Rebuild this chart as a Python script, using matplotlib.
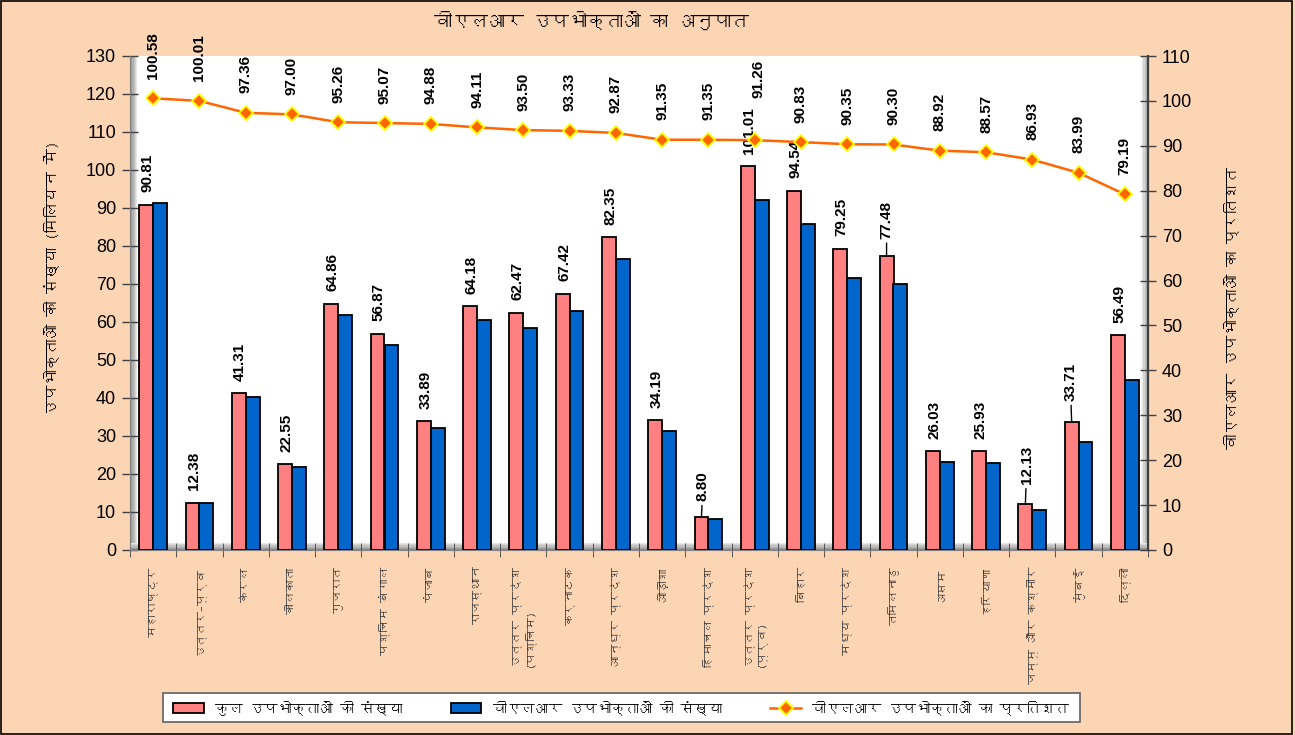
import matplotlib
matplotlib.use("Agg")
import matplotlib.pyplot as plt
import numpy as np
from matplotlib import font_manager as fm
from matplotlib.ft2font import FT2Font
from matplotlib.patches import Patch, Rectangle
from matplotlib.lines import Line2D

# ---------------- data ----------------
categories = ["महाराष्ट्र", "उत्तर–पूर्व", "केरल", "कोलकाता", "गुजरात", "पश्चिम बंगाल",
              "पंजाब", "राजस्थान", "उत्तर प्रदेश (पश्चिम)", "कर्नाटक", "आन्ध्र प्रदेश",
              "ओड़ीशा", "हिमाचल प्रदेश", "उत्तर प्रदेश (पूर्व)", "बिहार", "मध्य प्रदेश",
              "तमिलनाडु", "असम", "हरियाणा", "जम्मू और कश्मीर", "मुंबई", "दिल्ली"]
total_subs = [90.81, 12.38, 41.31, 22.55, 64.86, 56.87, 33.89, 64.18, 62.47, 67.42, 82.35,
              34.19, 8.80, 101.01, 94.54, 79.25, 77.48, 26.03, 25.93, 12.13, 33.71, 56.49]
vlr_subs = [91.34, 12.38, 40.22, 21.87, 61.79, 54.07, 32.16, 60.40, 58.41, 62.92, 76.48,
            31.23, 8.04, 92.18, 85.87, 71.60, 69.96, 23.15, 22.97, 10.54, 28.31, 44.73]
vlr_pct = [100.58, 100.01, 97.36, 97.00, 95.26, 95.07, 94.88, 94.11, 93.50, 93.33, 92.87,
           91.35, 91.35, 91.26, 90.83, 90.35, 90.30, 88.92, 88.57, 86.93, 83.99, 79.19]
left_ticks = list(range(0, 131, 10))
right_ticks = list(range(0, 111, 10))

title = "वीएलआर उपभोक्ताओं का अनुपात"
ylabel_left = "उपभोक्ताओं की संख्या (मिलियन में)"
ylabel_right = "वीएलआर उपभोक्ताओं का प्रतिशत"
legend_labels = ["कुल उपभोक्ताओं की संख्या", "वीएलआर उपभोक्ताओं की संख्या",
                 "वीएलआर उपभोक्ताओं का प्रतिशत"]

# ---------------- fonts ----------------
deva = None
for f in fm.fontManager.ttflist:
    try:
        cmap = FT2Font(f.fname).get_charmap()
    except Exception:
        continue
    if 0x0915 in cmap and 0x093F in cmap and f.style == "normal":
        deva = f.name
        break
fams = ([deva] if deva else []) + ["Liberation Sans", "DejaVu Sans"]
num_fams = ["Liberation Sans", "DejaVu Sans"]
plt.rcParams["font.family"] = fams

# ---------------- styles ----------------
BG = "#FCD5B4"
PINK = "#FF8080"
BLUE = "#0066CC"
ORANGE = "#FF6600"

fig = plt.figure(figsize=(12.95, 7.35), dpi=100, facecolor=BG)
ax = fig.add_axes([130 / 1295, 1 - 550 / 735, 1018 / 1295, 494 / 735])
ax.set_facecolor("white")
ax2 = ax.twinx()

x = np.arange(len(categories))
w = 0.3
ax.bar(x - w / 2, total_subs, w, color=PINK, edgecolor="black", linewidth=1.3, zorder=3)
ax.bar(x + w / 2, vlr_subs, w, color=BLUE, edgecolor="black", linewidth=1.3, zorder=3)

ax.set_xlim(-0.5, len(categories) - 0.5)
ax.set_ylim(0, 130)
ax.set_yticks(left_ticks)
ax2.set_ylim(0, 110)
ax2.set_yticks(right_ticks)

# shadows inside plot area
def shade(x0, y0, wd, ht, n, horizontal, dark_first):
    for k in range(n):
        frac = k / n
        g = 0.55 + 0.42 * frac if dark_first else 0.97 - 0.42 * frac
        if horizontal:
            r = Rectangle((x0 + wd * k / n, y0), wd / n, ht, transform=ax.transAxes,
                          facecolor=(g, g, g), edgecolor="none", zorder=1)
        else:
            r = Rectangle((x0, y0 + ht * k / n), wd, ht / n, transform=ax.transAxes,
                          facecolor=(g, g, g), edgecolor="none", zorder=1)
        ax.add_patch(r)

shade(0, 0, 7 / 1018, 1, 6, True, True)
shade(1 - 7 / 1018, 0, 7 / 1018, 1, 6, True, False)
shade(0, 0, 1, 7 / 494, 6, False, True)

ax.spines["top"].set_visible(False)
ax2.spines["top"].set_visible(False)
ax.spines["left"].set_color("#808080")
ax.spines["bottom"].set_color("#808080")
ax2.spines["right"].set_color("#404040")
ax2.spines["right"].set_linewidth(1.5)
ax2.spines["left"].set_visible(False)
ax2.spines["bottom"].set_visible(False)

ax.tick_params(axis="y", direction="inout", length=12, width=1, color="#404040",
               labelsize=13, pad=4)
ax2.tick_params(axis="y", direction="inout", length=12, width=1, color="#404040",
                labelsize=13, pad=4)
for lab in ax.get_yticklabels() + ax2.get_yticklabels():
    lab.set_family(num_fams)

# category labels (long ones wrapped so they fit above the legend)
cat_display = [c.replace(" (", "\n(") if len(c) > 16 else c for c in categories]
ax.set_xticks(x)
ax.set_xticklabels(cat_display, rotation=90, fontsize=8.5, color="#303030", va="top",
                   ha="center", multialignment="left", linespacing=1.0)
ax.tick_params(axis="x", which="major", length=0, pad=12)
ax.set_xticks(np.arange(-0.5, len(categories), 1), minor=True)
ax.tick_params(axis="x", which="minor", direction="inout", length=10, color="#404040")

# line on secondary axis
ax2.plot(x, vlr_pct, color=ORANGE, lw=1.8, marker="D", ms=7, mfc=ORANGE,
         mec="#FFFF00", mew=1.3, zorder=5)
ax2.set_zorder(ax.get_zorder() + 1)
ax2.patch.set_visible(False)

pct_offsets = {13: (3, 30)}
for i, (xi, v) in enumerate(zip(x, vlr_pct)):
    dx, dy = pct_offsets.get(i, (0, 14))
    ax2.annotate(f"{v:.2f}", (xi, v), xytext=(dx, dy), textcoords="offset points",
                 rotation=90, ha="center", va="bottom", fontsize=11,
                 fontweight="bold", family=num_fams, annotation_clip=False)

# bar value labels (some moved with leader lines)
special = {12: (1, 11), 16: (0, 12), 19: (1, 14), 20: (-1, 15)}
for i, (xi, v) in enumerate(zip(x, total_subs)):
    if i in special:
        dx, dy = special[i]
        ax.annotate(f"{v:.2f}", (xi - w / 2, v), xytext=(dx, dy), textcoords="offset points",
                    rotation=90, ha="center", va="bottom", fontsize=11,
                    fontweight="bold", family=num_fams,
                    arrowprops=dict(arrowstyle="-", color="black", lw=1,
                                    shrinkA=1, shrinkB=0))
    else:
        ax.annotate(f"{v:.2f}", (xi - w / 2, v), xytext=(1, 9), textcoords="offset points",
                    rotation=90, ha="center", va="bottom", fontsize=11,
                    fontweight="bold", family=num_fams)

# titles and labels
fig.text(591 / 1295, 1 - 20 / 735, title, ha="center", va="center", fontsize=13,
         fontweight="bold")
fig.text(52 / 1295, 1 - 278 / 735, ylabel_left, ha="center", va="center", rotation=90,
         fontsize=11)
fig.text(1232 / 1295, 1 - 308 / 735, ylabel_right, ha="center", va="center", rotation=90,
         fontsize=11)

# legend box
fig.patches.append(Rectangle((163 / 1295, 1 - 722 / 735), 917 / 1295, 29 / 735,
                             transform=fig.transFigure, facecolor="white",
                             edgecolor="#606060", linewidth=1.2, zorder=0))
handles = [Patch(facecolor=PINK, edgecolor="black", linewidth=1.3),
           Patch(facecolor=BLUE, edgecolor="black", linewidth=1.3),
           Line2D([0], [0], color=ORANGE, lw=1.8, marker="D", ms=7, mfc=ORANGE,
                  mec="#FFFF00", mew=1.3)]
leg = fig.legend(handles, legend_labels, ncol=3, loc="center",
                 bbox_to_anchor=(621 / 1295, 1 - 707.5 / 735), fontsize=10,
                 frameon=False, handlelength=2.2, columnspacing=3.5, borderpad=0.3)

# figure border
fig.patches.append(Rectangle((0.001, 0.002), 0.997, 0.996, transform=fig.transFigure,
                             fill=False, edgecolor="black", linewidth=1.2))

fig.savefig("out.png", dpi=100, facecolor=BG)
